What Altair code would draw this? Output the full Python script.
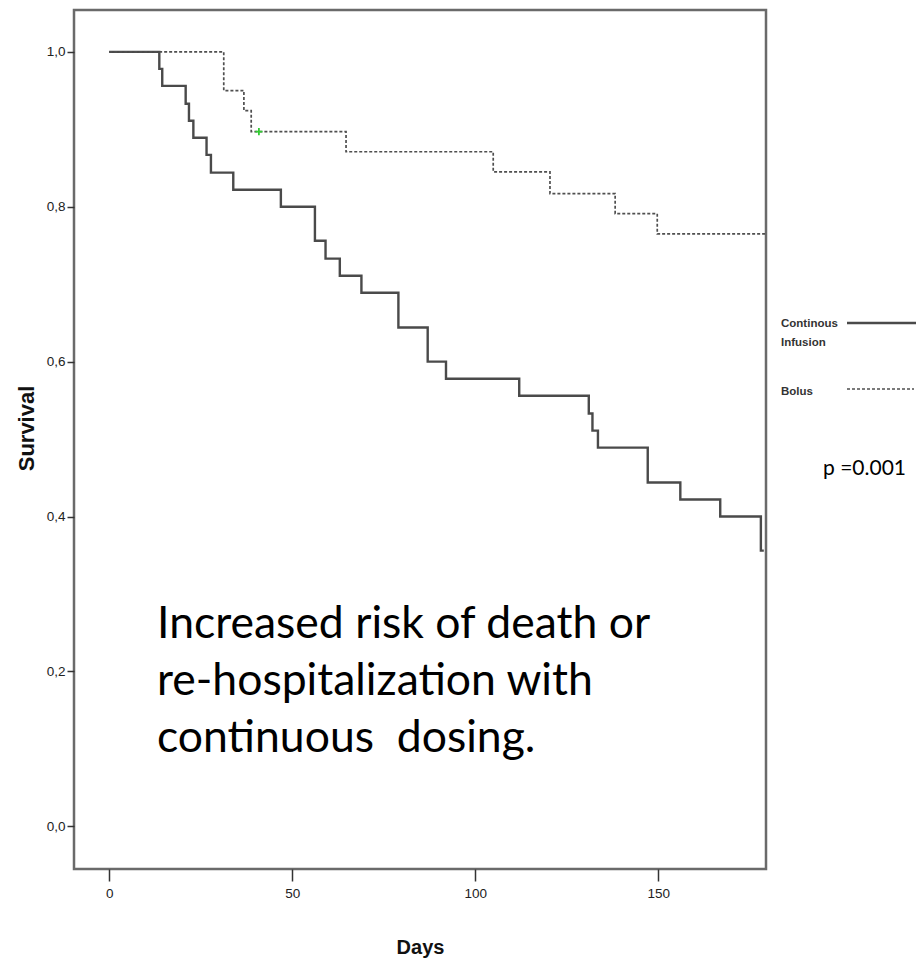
import altair as alt
import pandas as pd

# ---- data ----
ci_days = [0, 13.7, 14.5, 20.9, 21.8, 23.0, 26.6, 27.8, 33.9, 46.9, 56.2, 59.1, 63.0,
           68.9, 79.0, 87.0, 92.0, 112.0, 131.0, 132.0, 133.5, 147.1, 156.0, 166.9, 178.0, 178.8]
ci_surv = [1.0, 0.978, 0.956, 0.933, 0.911, 0.889, 0.867, 0.844, 0.822, 0.800, 0.756, 0.733, 0.711,
           0.689, 0.644, 0.600, 0.578, 0.556, 0.533, 0.511, 0.489, 0.444, 0.422, 0.400, 0.356, 0.356]
bolus_days = [0, 31.3, 36.8, 38.8, 64.7, 104.9, 120.4, 138.2, 149.7, 179.4]
bolus_surv = [1.0, 0.950, 0.924, 0.897, 0.871, 0.845, 0.817, 0.791, 0.765, 0.765]
censor_days = [40.9]
censor_surv = [0.897]
x_ticks = [0, 50, 100, 150]
y_ticks = [0.0, 0.2, 0.4, 0.6, 0.8, 1.0]
legend_ci = ["Continous", "Infusion"]
legend_bolus = "Bolus"
annotation = ["Increased risk of death or", "re-hospitalization with", "continuous \u00a0dosing."]
p_text = "p =0.001"

SANS = "Liberation Sans, Arial, sans-serif"
W, H = 692, 859

ci_df = pd.DataFrame({"day": ci_days, "surv": ci_surv})
bo_df = pd.DataFrame({"day": bolus_days, "surv": bolus_surv})
cen_df = pd.DataFrame({"day": censor_days, "surv": censor_surv})
one = pd.DataFrame({"k": [0]})

xs = alt.Scale(domain=[-9.6, 179.4], nice=False, zero=False)
ys = alt.Scale(domain=[-0.055, 1.054], nice=False, zero=False)

x_axis = alt.Axis(values=x_ticks, tickSize=12, labelPadding=5, domain=False, grid=False,
                  title="Days", titleFont=SANS, titleFontSize=20, titleFontWeight="bold",
                  titleY=84, titleBaseline="alphabetic", titleColor="#111",
                  labelFont=SANS, labelFontSize=13.5, labelColor="#222",
                  tickColor="#333", tickWidth=1.5)
y_axis = alt.Axis(values=y_ticks, tickSize=7, labelPadding=2, domain=False, grid=False,
                  labelExpr="replace(format(datum.value, '.1f'), '.', ',')",
                  title="Survival", titleFont=SANS,
                  titleFontSize=22, titleFontWeight="bold", titleAngle=270,
                  titleX=-48, titleY=418, titleAlign="center", titleBaseline="middle",
                  titleColor="#111",
                  labelFont=SANS, labelFontSize=13.5, labelColor="#222",
                  tickColor="#333", tickWidth=1.5)

ci_line = alt.Chart(ci_df).mark_line(interpolate="step-after", color="#4a4a4a", strokeWidth=2.4).encode(
    x=alt.X("day:Q", scale=xs, axis=x_axis),
    y=alt.Y("surv:Q", scale=ys, axis=y_axis),
)
bo_line = alt.Chart(bo_df).mark_line(interpolate="step-after", color="#4f4f4f", strokeWidth=1.7,
                                     strokeDash=[3, 2]).encode(
    x=alt.X("day:Q", scale=xs), y=alt.Y("surv:Q", scale=ys))
cen = alt.Chart(cen_df).mark_point(shape="M-1,0L1,0M0,-1L0,1", filled=False, size=50,
                                   color="#33cc33", strokeWidth=1.8, opacity=1).encode(
    x=alt.X("day:Q", scale=xs), y=alt.Y("surv:Q", scale=ys))

ann = alt.Chart(one).mark_text(align="left", baseline="alphabetic", font="Lato, Open Sans, sans-serif",
                               fontSize=44.5, lineHeight=57, color="#000").encode(
    x=alt.value(83), y=alt.value(628), text=alt.value(annotation))
ptxt = alt.Chart(one).mark_text(align="left", baseline="alphabetic", font="Lato, Open Sans, sans-serif",
                                fontSize=21, color="#000").encode(
    x=alt.value(749), y=alt.value(465), text=alt.value(p_text))

leg1 = alt.Chart(one).mark_text(align="left", baseline="alphabetic", font=SANS, fontWeight="bold",
                                fontSize=11.5, lineHeight=19, color="#333").encode(
    x=alt.value(707), y=alt.value(317), text=alt.value(legend_ci))
leg2 = alt.Chart(one).mark_text(align="left", baseline="alphabetic", font=SANS, fontWeight="bold",
                                fontSize=11.5, color="#333").encode(
    x=alt.value(707), y=alt.value(385), text=alt.value(legend_bolus))
rule1 = alt.Chart(one).mark_rule(color="#4a4a4a", strokeWidth=2.4).encode(
    x=alt.value(773), x2=alt.value(842), y=alt.value(313))
rule2 = alt.Chart(one).mark_rule(color="#4f4f4f", strokeWidth=1.7, strokeDash=[3, 2]).encode(
    x=alt.value(773), x2=alt.value(840), y=alt.value(379))

chart = alt.layer(ci_line, bo_line, cen, ann, ptxt, leg1, leg2, rule1, rule2).properties(
    width=W, height=H,
    autosize=alt.AutoSizeParams(type="none"),
    padding={"left": 74, "top": 10, "right": 150, "bottom": 94},
    background="white",
).configure_view(stroke="#6a6a6a", strokeWidth=2.5)

chart.save("out.html", embed_options={"renderer": "svg", "actions": False})
